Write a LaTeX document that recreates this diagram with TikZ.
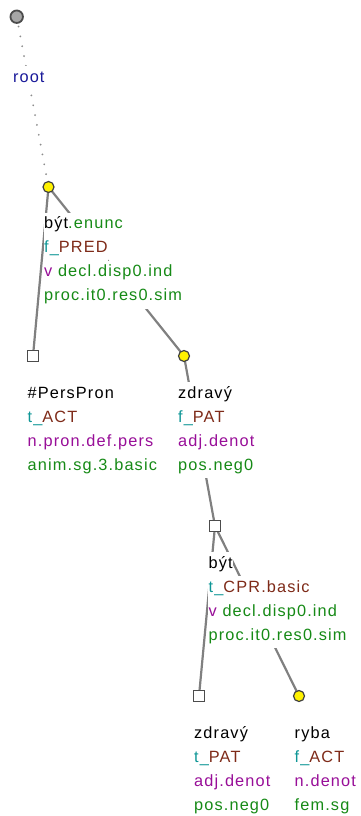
\documentclass[tikz,border=0pt]{standalone}
\usepackage{fontspec}
\setmainfont{Liberation Sans}[LetterSpace=7]
\definecolor{cteal}{HTML}{0E9696}
\definecolor{cbrown}{HTML}{7E2A18}
\definecolor{cpurple}{HTML}{980E98}
\definecolor{cgreen}{HTML}{168A16}
\definecolor{cnavy}{HTML}{1A1A9A}
\definecolor{edgegray}{HTML}{808080}
\pgfdeclarelayer{bg}
\pgfsetlayers{bg,main}
\tikzset{
  edge/.style={draw=edgegray, line width=2.2pt},
  rootedge/.style={draw=black!45, line width=2pt, line cap=round, dash pattern=on 0.01pt off 10pt},
  lbl/.style={anchor=base west, inner xsep=0.5pt, inner ysep=0pt, fill=white, text height=16pt, text depth=8pt, font=\fontsize{16.3}{18}\selectfont},
  ynode/.style={circle, fill=yellow, draw=black!75, line width=1.2pt, minimum size=11pt, inner sep=0pt},
  snode/.style={rectangle, fill=white, draw=black!70, line width=1.2pt, minimum size=11pt, inner sep=0pt},
  rnode/.style={circle, fill=black!35, draw=black!70, line width=1.8pt, minimum size=12.5pt, inner sep=0pt},
}
\begin{document}
\begin{tikzpicture}[x=1pt,y=-1pt]
\useasboundingbox (0,0) rectangle (361,816);
% nodes
\node[rnode] (R) at (16.7,16.7) {};
\node[ynode] (A) at (48.5,187) {};
\node[snode] (B) at (33,356) {};
\node[ynode] (C) at (184,356) {};
\node[snode] (D) at (215,526) {};
\node[snode] (E) at (199,696) {};
\node[ynode] (F) at (299,696) {};
% edges
\begin{pgfonlayer}{bg}
\draw[rootedge] (R.center) -- (A.center);
\draw[edge] (A.center) -- (B.center);
\draw[edge] (A.center) -- (C.center);
\draw[edge] (C.center) -- (D.center);
\draw[edge] (D.center) -- (E.center);
\draw[edge] (D.center) -- (F.center);
\end{pgfonlayer}
% labels
\node[lbl, text=cnavy] (r1) at (12.3,82) {root};
% A
\node[lbl] (a1) at (43.5,228.5) {být\textcolor{cgreen}{.enunc}};
\node[lbl] (a2) at (43.5,252.5) {\textcolor{cteal}{f\_}\textcolor{cbrown}{PRED}};
\node[lbl] (a3) at (43.5,276.5) {\textcolor{cpurple}{v} \textcolor{cgreen}{decl.disp0.ind}};
\node[lbl, text=cgreen] (a4) at (43.5,300.5) {proc.it0.res0.sim};
% B
\node[lbl] (b1) at (27,398) {\#PersPron};
\node[lbl] (b2) at (27,422) {\textcolor{cteal}{t\_}\textcolor{cbrown}{ACT}};
\node[lbl, text=cpurple] (b3) at (27,446) {n.pron.def.pers};
\node[lbl, text=cgreen] (b4) at (27,470) {anim.sg.3.basic};
% C
\node[lbl] (c1) at (177.5,398) {zdravý};
\node[lbl] (c2) at (177.5,422) {\textcolor{cteal}{f\_}\textcolor{cbrown}{PAT}};
\node[lbl, text=cpurple] (c3) at (177.5,446) {adj.denot};
\node[lbl, text=cgreen] (c4) at (177.5,470) {pos.neg0};
% D
\node[lbl] (d1) at (208,568) {být};
\node[lbl] (d2) at (208,592) {\textcolor{cteal}{t\_}\textcolor{cbrown}{CPR.basic}};
\node[lbl] (d3) at (208,616) {\textcolor{cpurple}{v} \textcolor{cgreen}{decl.disp0.ind}};
\node[lbl, text=cgreen] (d4) at (208,640) {proc.it0.res0.sim};
% E
\node[lbl] (e1) at (193.5,738) {zdravý};
\node[lbl] (e2) at (193.5,762) {\textcolor{cteal}{t\_}\textcolor{cbrown}{PAT}};
\node[lbl, text=cpurple] (e3) at (193.5,786) {adj.denot};
\node[lbl, text=cgreen] (e4) at (193.5,810) {pos.neg0};
% F
\node[lbl] (f1) at (294,738) {ryba};
\node[lbl] (f2) at (294,762) {\textcolor{cteal}{f\_}\textcolor{cbrown}{ACT}};
\node[lbl, text=cpurple] (f3) at (294,786) {n.denot};
\node[lbl, text=cgreen] (f4) at (294,810) {fem.sg};
\end{tikzpicture}
\end{document}
